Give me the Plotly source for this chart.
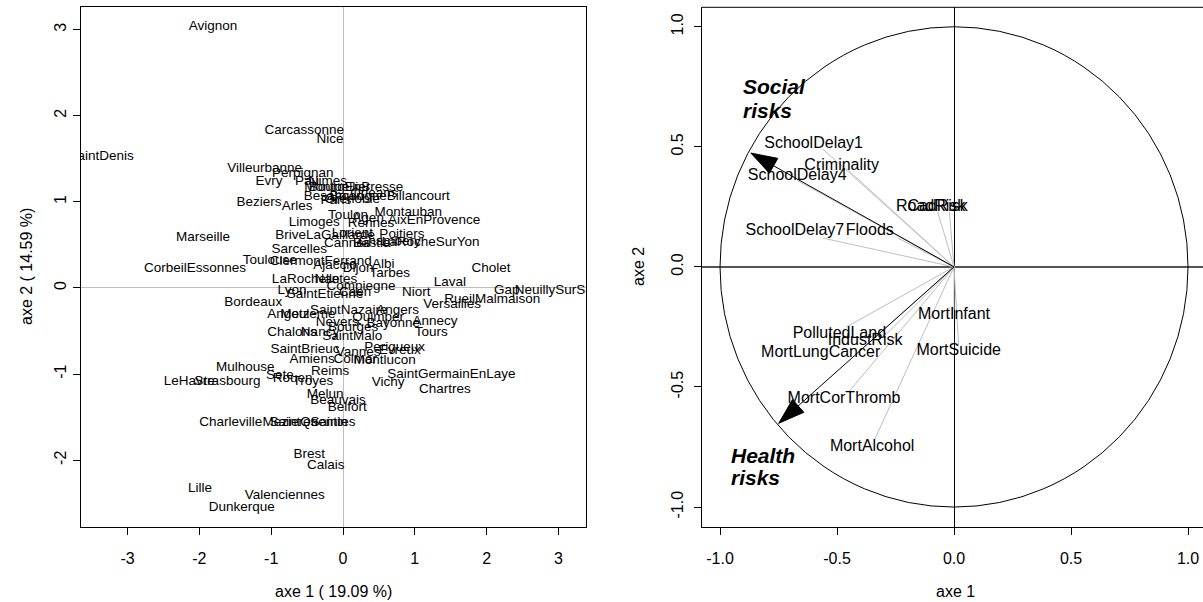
import math
import plotly.graph_objects as go

# ---------------- data ----------------
cities = ["Avignon", "Carcassonne", "Nice", "SaintDenis", "Villeurbanne", "Perpignan", "Evry", "Pau", "Nimes",
          "Montpellier", "BourgEnBresse", "Besancon", "Orleans", "BoulogneBillancourt", "Grenoble", "Paris",
          "Beziers", "Arles", "Toulon", "Agen", "Montauban", "Rennes", "AixEnProvence", "Limoges", "Marseille",
          "BriveLaGaillarde", "Lorient", "Poitiers", "Cannes", "Bastia", "Chambery", "LaRocheSurYon", "Sarcelles",
          "Toulouse", "ClermontFerrand", "CorbeilEssonnes", "Ajaccio", "Dijon", "Albi", "Tarbes", "Cholet", "Laval",
          "LaRochelle", "Nantes", "Compiegne", "Caen", "Lyon", "SaintEtienne", "Niort", "Gap", "NeuillySurSeine",
          "RueilMalmaison", "Versailles", "Bordeaux", "SaintNazaire", "Angers", "Metz", "Angouleme", "Nevers",
          "Quimper", "Bayonne", "Annecy", "Tours", "Bourges", "Chalons", "Nancy", "SaintMalo", "SaintBrieuc",
          "Amiens", "Vannes", "Colmar", "Perigueux", "Evreux", "Montlucon", "SaintGermainEnLaye", "Vichy",
          "Chartres", "Mulhouse", "LeHavre", "Strasbourg", "Sete", "Rouen", "Troyes", "Reims", "Melun", "Beauvais",
          "Belfort", "CharlevilleMezieres", "SaintQuentin", "Saintes", "Brest", "Calais", "Lille", "Valenciennes",
          "Dunkerque"]
axe1 = [-1.81, -0.54, -0.18, -3.37, -1.09, -0.56, -1.03, -0.50, -0.21,
        -0.08, 0.18, -0.13, 0.43, 0.65, 0.13, -0.10,
        -1.17, -0.64, 0.07, 0.35, 0.91, 0.39, 1.27, -0.40, -1.95,
        -0.25, 0.13, 0.82, 0.06, 0.40, 0.65, 1.22, -0.61,
        -1.02, -0.31, -2.06, -0.11, 0.21, 0.56, 0.65, 2.06, 1.49,
        -0.52, -0.10, 0.25, 0.17, -0.71, -0.25, 1.02, 2.28, 3.06,
        2.08, 1.52, -1.25, 0.08, 0.76, -0.67, -0.58, -0.08,
        0.49, 0.70, 1.28, 1.23, 0.14, -0.71, -0.32, 0.13, -0.53,
        -0.43, 0.21, 0.17, 0.72, 0.79, 0.58, 1.51, 0.63,
        1.42, -1.36, -2.14, -1.61, -0.88, -0.70, -0.42, -0.18, -0.25, -0.07,
        0.06, -1.18, -0.48, -0.14, -0.47, -0.24, -1.99, -0.81,
        -1.41]
axe2 = [3.03, 1.83, 1.72, 1.53, 1.38, 1.33, 1.24, 1.23, 1.24,
        1.16, 1.16, 1.06, 1.09, 1.06, 1.03, 1.01,
        0.99, 0.94, 0.84, 0.81, 0.87, 0.75, 0.78, 0.76, 0.59,
        0.61, 0.63, 0.62, 0.52, 0.52, 0.54, 0.53, 0.45,
        0.32, 0.31, 0.23, 0.26, 0.23, 0.27, 0.17, 0.22, 0.06,
        0.10, 0.10, 0.02, -0.05, -0.03, -0.08, -0.06, -0.03, -0.03,
        -0.13, -0.19, -0.17, -0.26, -0.26, -0.31, -0.31, -0.40,
        -0.34, -0.41, -0.39, -0.52, -0.46, -0.52, -0.52, -0.56, -0.72,
        -0.83, -0.75, -0.83, -0.69, -0.73, -0.84, -1.01, -1.10,
        -1.18, -0.92, -1.09, -1.09, -1.02, -1.05, -1.09, -0.97, -1.24, -1.31,
        -1.39, -1.56, -1.56, -1.56, -1.93, -2.06, -2.33, -2.41,
        -2.55]

variables = ["SchoolDelay1", "Criminality", "SchoolDelay4", "RoadRisk", "CadRisk", "SchoolDelay7", "Floods",
             "MortInfant", "PollutedLand", "IndustRisk", "MortLungCancer", "MortSuicide", "MortCorThromb",
             "MortAlcohol"]
var_x = [-0.56, -0.46, -0.67, -0.07, -0.02, -0.56, -0.24, 0.00, -0.46, -0.29, -0.38, 0.02, -0.45, -0.34]
var_y = [0.49, 0.41, 0.36, 0.23, 0.23, 0.12, 0.12, -0.18, -0.25, -0.28, -0.33, -0.33, -0.52, -0.72]
lab_x = [-0.60, -0.48, -0.67, -0.10, -0.07, -0.68, -0.36, 0.00, -0.49, -0.38, -0.57, 0.02, -0.47, -0.35]
lab_y = [0.51, 0.42, 0.38, 0.25, 0.25, 0.15, 0.15, -0.20, -0.28, -0.31, -0.36, -0.35, -0.55, -0.75]

groups = ["Social", "Health"]
group_tip_x = [-0.868, -0.749]
group_tip_y = [0.474, -0.651]
group_lab_x = [-0.91, -0.96]
group_lab_y = [0.75, -0.785]
group_lab_y2 = [0.653, -0.876]

left_xticks = [-3, -2, -1, 0, 1, 2, 3]
left_yticks = [-2, -1, 0, 1, 2, 3]
right_ticks = [-1.0, -0.5, 0.0, 0.5, 1.0]
right_ticktext = ["-1.0", "-0.5", "0.0", "0.5", "1.0"]

# ---------------- layout constants ----------------
W, H = 1203, 602
FONT = "Liberation Sans, Arial, Helvetica, sans-serif"
GRAY = "#bebebe"

xdom1 = [80.7 / W, 585.7 / W]
xdom2 = [702.0 / W, 1.0]
ydom = [1 - 527.0 / H, 1 - 7.3 / H]
xr1 = [-3.653, 3.380]
yr1 = [-2.776, 3.259]
xr2 = [-1.077, 1.064]
yr2 = [-1.083, 1.081]

fig = go.Figure()

# left panel: city labels
fig.add_trace(go.Scatter(
    x=axe1, y=axe2, text=cities, mode="text", textposition="middle center",
    textfont=dict(family=FONT, size=13.5, color="black"),
    xaxis="x", yaxis="y", hoverinfo="skip", cliponaxis=True, showlegend=False))

# right panel: grey segments to variables
sx, sy = [], []
for vx, vy in zip(var_x, var_y):
    sx += [0, vx, None]
    sy += [0, vy, None]
fig.add_trace(go.Scatter(x=sx, y=sy, mode="lines", line=dict(color=GRAY, width=1),
                         xaxis="x2", yaxis="y2", hoverinfo="skip", showlegend=False))

# black arrows (shaft + head)
xscale = (xdom2[1] - xdom2[0]) * W / (xr2[1] - xr2[0])
yscale = (ydom[1] - ydom[0]) * H / (yr2[1] - yr2[0])
head_len, head_half = 26.0, 8.5
for tx, ty in zip(group_tip_x, group_tip_y):
    fig.add_trace(go.Scatter(x=[0, tx], y=[0, ty], mode="lines", line=dict(color="black", width=1),
                             xaxis="x2", yaxis="y2", hoverinfo="skip", showlegend=False))
    dx, dy = tx * xscale, ty * yscale
    L = math.hypot(dx, dy)
    ux, uy = dx / L, dy / L
    bx, by = dx - head_len * ux, dy - head_len * uy
    px_, py_ = -uy * head_half, ux * head_half
    tri_x = [tx, (bx + px_) / xscale, (bx - px_) / xscale, tx]
    tri_y = [ty, (by + py_) / yscale, (by - py_) / yscale, ty]
    fig.add_trace(go.Scatter(x=tri_x, y=tri_y, mode="lines", fill="toself", fillcolor="black",
                             line=dict(color="black", width=1), xaxis="x2", yaxis="y2",
                             hoverinfo="skip", showlegend=False))

# variable labels
fig.add_trace(go.Scatter(
    x=lab_x, y=lab_y, text=variables, mode="text", textposition="middle center",
    textfont=dict(family=FONT, size=16, color="black"),
    xaxis="x2", yaxis="y2", hoverinfo="skip", cliponaxis=False, showlegend=False))

# unit circle
fig.add_shape(type="circle", xref="x2", yref="y2", x0=-1, y0=-1, x1=1, y1=1,
              line=dict(color="black", width=1), layer="above")
# top border of right panel (right border lies outside the window)
fig.add_shape(type="line", xref="x2 domain", yref="y2 domain", x0=0, x1=1, y0=1, y1=1,
              line=dict(color="black", width=1))

# group labels
for name, gx, gy, gy2 in zip(groups, group_lab_x, group_lab_y, group_lab_y2):
    fig.add_annotation(x=gx, y=gy, xref="x2", yref="y2", text="<b><i>%s</i></b>" % name,
                       showarrow=False, xanchor="left", yanchor="middle",
                       font=dict(family=FONT, size=21, color="black"))
    fig.add_annotation(x=gx, y=gy2, xref="x2", yref="y2", text="<b><i>risks</i></b>",
                       showarrow=False, xanchor="left", yanchor="middle",
                       font=dict(family=FONT, size=21, color="black"))

# axis titles
def title(text, px, py, angle=0):
    fig.add_annotation(x=px / W, y=1 - py / H, xref="paper", yref="paper", text=text,
                       showarrow=False, xanchor="center", yanchor="middle", textangle=angle,
                       font=dict(family=FONT, size=16, color="black"))

title("axe 1 ( 19.09 %)", 333, 591)
title("axe 2 ( 14.59 %)", 26, 267, -90)
title("axe 1", 955, 591)
title("axe 2", 638, 267, -90)

axis_common = dict(showgrid=False, showline=True, linecolor="black", linewidth=1,
                   ticks="outside", ticklen=7, tickwidth=1, tickcolor="black",
                   tickfont=dict(family=FONT, size=16, color="black"), automargin=False)

fig.update_layout(
    width=W, height=H, margin=dict(l=0, r=0, t=0, b=0),
    paper_bgcolor="white", plot_bgcolor="white", showlegend=False,
    font=dict(family=FONT, color="black"),
    xaxis=dict(domain=xdom1, range=xr1, tickvals=left_xticks, ticktext=[str(v) for v in left_xticks],
               mirror=True, zeroline=True, zerolinecolor=GRAY, zerolinewidth=1,
               anchor="y", ticklabelstandoff=10, **axis_common),
    yaxis=dict(domain=ydom, range=yr1, tickvals=left_yticks, ticktext=[str(v) for v in left_yticks],
               mirror=True, zeroline=True, zerolinecolor=GRAY, zerolinewidth=1,
               anchor="x", tickangle=-90, ticklabelstandoff=0, **axis_common),
    xaxis2=dict(domain=xdom2, range=xr2, tickvals=right_ticks, ticktext=right_ticktext,
                mirror=False, zeroline=True, zerolinecolor="black", zerolinewidth=1,
                anchor="y2", ticklabelstandoff=10, **axis_common),
    yaxis2=dict(domain=ydom, range=yr2, tickvals=right_ticks, ticktext=right_ticktext,
                mirror=False, zeroline=True, zerolinecolor="#555555", zerolinewidth=1.5,
                anchor="x2", tickangle=-90, ticklabelstandoff=5, **axis_common),
)

fig.write_html("out.html", config={"displayModeBar": False},
               post_script="document.body.style.margin='0';document.body.style.padding='0';")
